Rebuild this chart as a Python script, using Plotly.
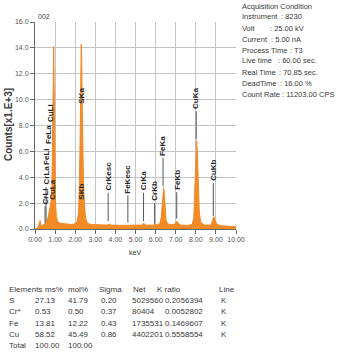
import plotly.graph_objects as go

# ---------------- data ----------------
energy_kev = [0.00, 0.10, 0.18, 0.22, 0.25, 0.28, 0.32, 0.40, 0.50, 0.58, 0.65, 0.70, 0.75, 0.80,
              0.84, 0.87, 0.90, 0.93, 0.96, 0.99, 1.02, 1.06, 1.12, 1.25, 1.50, 1.80, 2.00, 2.10,
              2.16, 2.20, 2.24, 2.27, 2.30, 2.32, 2.35, 2.38, 2.42, 2.46, 2.50, 2.56, 2.65, 2.80,
              3.20, 3.60, 3.69, 3.80, 4.20, 4.60, 4.68, 5.00, 5.30, 5.41, 5.50, 5.90, 5.95, 6.10,
              6.22, 6.28, 6.33, 6.37, 6.40, 6.43, 6.47, 6.52, 6.60, 6.80, 6.98, 7.05, 7.12, 7.25,
              7.60, 7.82, 7.90, 7.95, 8.00, 8.04, 8.08, 8.12, 8.17, 8.24, 8.40, 8.75, 8.85, 8.90,
              8.95, 9.05, 9.30, 9.70, 10.00]
counts_k = [0.00, 0.05, 0.25, 0.55, 0.65, 0.35, 0.25, 0.30, 0.40, 0.60, 0.90, 1.30, 1.80, 2.10,
            3.20, 6.00, 10.5, 14.1, 10.0, 5.00, 2.20, 1.00, 0.60, 0.45, 0.38, 0.35, 0.40, 0.60,
            1.20, 2.80, 6.50, 11.0, 14.3, 13.5, 9.50, 5.50, 2.80, 2.00, 1.10, 0.60, 0.42, 0.35,
            0.32, 0.30, 0.36, 0.30, 0.28, 0.28, 0.32, 0.28, 0.30, 0.45, 0.30, 0.30, 0.35, 0.32,
            0.45, 0.90, 2.00, 2.90, 3.20, 2.80, 1.60, 0.70, 0.40, 0.32, 0.40, 0.62, 0.45, 0.30,
            0.28, 0.35, 0.90, 2.80, 5.60, 6.85, 5.80, 3.50, 1.40, 0.55, 0.30, 0.30, 0.70, 0.95,
            0.70, 0.35, 0.25, 0.20, 0.18]

peak_labels = ["CrLl", "CrLa", "FeLl", "FeLa", "CuLl", "CuLa", "SKa", "SKb", "CrKesc", "FeKesc",
               "CrKa", "CrKb", "FeKa", "FeKb", "CuKa", "CuKb"]
peak_kev = [0.50, 0.55, 0.60, 0.66, 0.74, 0.87, 2.27, 2.33, 3.64, 4.62, 5.40, 5.95, 6.37, 7.05, 8.02, 8.87]
peak_text_base = [1.75, 3.25, 4.8, 6.4, 8.1, 2.1, 9.5, 2.1, 2.8, 2.6, 2.8, 2.0, 5.5, 2.85, 9.1, 3.55]
peak_line_low = [0.45, 0.6, 4.8, 6.4, 8.1, 2.1, 9.5, 2.1, 0.6, 0.5, 0.6, 0.4, 3.3, 0.8, 6.95, 1.0]

x_tick_vals = [0, 1, 2, 3, 4, 5, 6, 7, 8, 9, 10]
y_tick_vals = [0, 2, 4, 6, 8, 10, 12, 14, 16]

cond_title = "Acquisition Condition"
cond_names = ["Instrument", "Volt", "Current", "Process Time", "Live time", "Real Time", "DeadTime", "Count Rate"]
cond_values = ["8230", "25.00 kV", "5.00 nA", "T3", "60.00 sec.", "70.85 sec.", "16.00 %", "11203.00 CPS"]

table_header = ["Elements", "ms%", "mol%", "Sigma", "Net", "K ratio", "Line"]
elements = ["S", "Cr*", "Fe", "Cu", "Total"]
ms_pct = ["27.13", "0.53", "13.81", "58.52", "100.00"]
mol_pct = ["41.79", "0.50", "12.22", "45.49", "100.00"]
sigma = ["0.20", "0.37", "0.43", "0.86", ""]
net = ["5029560", "80404", "1735531", "4402201", ""]
k_ratio = ["0.2056394", "0.0052802", "0.1469607", "0.5558554", ""]
line_type = ["K", "K", "K", "K", ""]

# ---------------- layout geometry ----------------
W, H = 342, 355
L, R, T, B = 35, 236, 22, 229
FONT = "Liberation Sans Narrow, Arial Narrow, Liberation Sans, Arial, sans-serif"
TXT = "#3a3a3a"
ORANGE = "#F28A26"


def px(x):
    return (x - L) / (R - L)


def py(y):
    return (B - y) / (B - T)


fig = go.Figure()
fig.add_trace(go.Scatter(x=energy_kev, y=counts_k, mode="lines", fill="tozeroy",
                         fillcolor=ORANGE, line=dict(color=ORANGE, width=1),
                         hoverinfo="skip", showlegend=False))

# marker lines for the labels
lx, ly = [], []
for xk, top, low in zip(peak_kev, peak_text_base, peak_line_low):
    if low < top:
        lx += [xk, xk, None]
        ly += [low, top, None]
fig.add_trace(go.Scatter(x=lx, y=ly, mode="lines", line=dict(color="#555555", width=1),
                         hoverinfo="skip", showlegend=False))

ann = []
for name, xk, yb in zip(peak_labels, peak_kev, peak_text_base):
    ann.append(dict(x=xk, y=yb, xref="x", yref="y", text="<b>" + name + "</b>", textangle=-90,
                    showarrow=False, xanchor="center", yanchor="bottom",
                    font=dict(size=8, color="#2a2a2a", family=FONT)))

# axis titles and small text
ann.append(dict(x=px(8), y=py(125), xref="paper", yref="paper", text="<b>Counts[x1.E+3]</b>",
                textangle=-90, showarrow=False, xanchor="center", yanchor="middle",
                font=dict(size=10, color=TXT, family=FONT)))
ann.append(dict(x=px(135), y=py(252), xref="paper", yref="paper", text="keV",
                showarrow=False, xanchor="center", yanchor="middle",
                font=dict(size=7, color=TXT, family=FONT)))
ann.append(dict(x=px(36), y=py(17), xref="paper", yref="paper", text="002",
                showarrow=False, xanchor="left", yanchor="middle",
                font=dict(size=7, color=TXT, family=FONT)))

# acquisition condition block
cond_x = 240
cond_colon_x = [279, 268, 269, 288, 276, 277, 278, 280]
cond_y0, cond_dy = 6, 11
ann.append(dict(x=px(cond_x), y=py(cond_y0), xref="paper", yref="paper", text=cond_title,
                showarrow=False, xanchor="left", yanchor="middle",
                font=dict(size=7.5, color=TXT, family=FONT)))
for i, (n, v) in enumerate(zip(cond_names, cond_values)):
    yy = cond_y0 + (i + 1) * cond_dy
    ann.append(dict(x=px(cond_x), y=py(yy), xref="paper", yref="paper", text=n,
                    showarrow=False, xanchor="left", yanchor="middle",
                    font=dict(size=7.5, color=TXT, family=FONT)))
    ann.append(dict(x=px(cond_colon_x[i]), y=py(yy), xref="paper", yref="paper", text=": " + v,
                    showarrow=False, xanchor="left", yanchor="middle",
                    font=dict(size=7.5, color=TXT, family=FONT)))

# results table
head_x = [7, 43, 66, 97, 131, 155, 217]
col_x = [7, 33, 66, 99, 130, 163, 219]
row_y0, row_dy = 289, 11.4
for hx, h in zip(head_x, table_header):
    ann.append(dict(x=px(hx), y=py(row_y0), xref="paper", yref="paper", text=h,
                    showarrow=False, xanchor="left", yanchor="middle",
                    font=dict(size=8, color=TXT, family=FONT)))
rows = list(zip(elements, ms_pct, mol_pct, sigma, net, k_ratio, line_type))
for r, row in enumerate(rows):
    yy = row_y0 + (r + 1) * row_dy
    for cx, val in zip(col_x, row):
        if val:
            ann.append(dict(x=px(cx), y=py(yy), xref="paper", yref="paper", text=val,
                            showarrow=False, xanchor="left", yanchor="middle",
                            font=dict(size=8, color=TXT, family=FONT)))

axis_common = dict(showline=True, linecolor="#6a6a6a", linewidth=1, ticks="outside",
                   ticklen=4, tickcolor="#6a6a6a", showgrid=True, gridcolor="#c4c4c4",
                   gridwidth=1, zeroline=False, tickfont=dict(size=7, color="#555555", family=FONT))

fig.update_layout(
    width=W, height=H, margin=dict(l=L, r=W - R, t=T, b=H - B, autoexpand=False),
    paper_bgcolor="white", plot_bgcolor="white", showlegend=False, hovermode=False,
    xaxis=dict(range=[0, 10], tickvals=x_tick_vals, tickformat=".2f", **axis_common),
    yaxis=dict(range=[0, 16], tickvals=y_tick_vals, tickformat=".1f", **axis_common),
    annotations=ann,
)

fig.write_html("out.html", config={"displayModeBar": False, "staticPlot": True},
               post_script="document.body.style.margin='0px';document.body.style.overflow='hidden';")
